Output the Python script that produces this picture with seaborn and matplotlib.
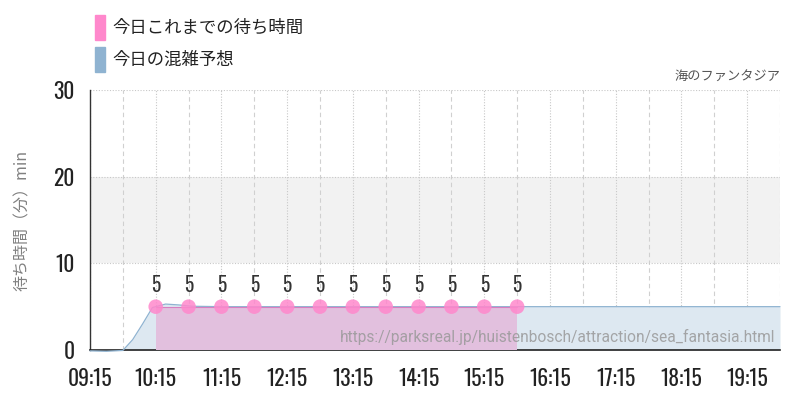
import matplotlib
matplotlib.use("Agg")
import matplotlib.pyplot as plt
import seaborn as sns
import pandas as pd
from matplotlib.patches import Rectangle

# ---- data ----
tick_labels = ["09:15", "10:15", "11:15", "12:15", "13:15", "14:15",
               "15:15", "16:15", "17:15", "18:15", "19:15"]
tick_hours = [9.25, 10.25, 11.25, 12.25, 13.25, 14.25, 15.25, 16.25, 17.25, 18.25, 19.25]
ytick_values = [0, 10, 20, 30]

actual_hours = [10.25, 10.75, 11.25, 11.75, 12.25, 12.75, 13.25, 13.75,
                14.25, 14.75, 15.25, 15.75]
actual_waits = [5, 5, 5, 5, 5, 5, 5, 5, 5, 5, 5, 5]

forecast_hours = [9.25, 9.5, 9.75, 9.9, 10.05, 10.2, 10.4, 10.6, 10.8, 11.25,
                  12.25, 13.25, 14.25, 15.25, 16.25, 17.25, 18.25, 19.25, 19.75]
forecast_waits = [-0.1, -0.15, -0.05, 1.2, 3.0, 4.9, 5.3, 5.2, 5.05, 5.0,
                  5.0, 5.0, 5.0, 5.0, 5.0, 5.0, 5.0, 5.0, 5.0]

legend_labels = ["今日これまでの待ち時間", "今日の混雑予想"]
title_text = "海のファンタジア"
ylabel_text = "待ち時間（分）min"
url_text = "https://parksreal.jp/huistenbosch/attraction/sea_fantasia.html"

pink = "#ff88cc"
blue = "#8fb3d1"

sns.set_theme(style="white")
plt.rcParams["font.family"] = ["Noto Sans CJK JP", "DejaVu Sans"]
num_font = ["Oswald", "Roboto Condensed", "Barlow Condensed", "DejaVu Sans"]

fig = plt.figure(figsize=(8, 4), dpi=100)
ax = fig.add_axes([0.1125, 0.125, 0.8625, 0.65])

df_f = pd.DataFrame({"h": forecast_hours, "w": forecast_waits})
df_a = pd.DataFrame({"h": actual_hours, "w": actual_waits})

# gray band
ax.axhspan(10, 20, color="#f2f2f2", zorder=0, lw=0)

# vertical grid
for i in range(22):
    x = 9.25 + i * 0.5
    if i % 2 == 0:
        ax.axvline(x, color="#c8c8c8", lw=0.8, ls=(0, (1, 1.5)), zorder=1)
    else:
        ax.axvline(x, color="#d0d0d0", lw=0.8, ls=(0, (4, 3)), zorder=1)
for y in [10, 20, 30]:
    ax.axhline(y, color="#c8c8c8", lw=0.8, ls=(0, (1, 1.5)), zorder=1)

# forecast
ax.fill_between(df_f["h"], df_f["w"].clip(lower=0), 0, color="#dde8f1", lw=0, zorder=2)
sns.lineplot(data=df_f, x="h", y="w", ax=ax, color=blue, lw=0.9, zorder=3, clip_on=False)

# actual
ax.fill_between(df_a["h"], df_a["w"] - 0.1, 0, color="#e2c0de", lw=0, zorder=4)
sns.lineplot(data=df_a, x="h", y="w", ax=ax, color="#d77fc0", lw=0.8, zorder=5)
sns.scatterplot(data=df_a, x="h", y="w", ax=ax, color=pink, s=110,
                edgecolor="none", alpha=0.85, zorder=6)
for h, w in zip(actual_hours, actual_waits):
    ax.text(h, w + 1.3, str(w), ha="center", va="bottom", fontsize=14,
            family=num_font, fontweight="light", color="#333333", zorder=7)

ax.set_xlim(9.25, 19.75)
ax.set_ylim(0, 30)
ax.set_xticks(tick_hours)
ax.set_xticklabels(tick_labels, family=num_font, fontweight="light", fontsize=15.5,
                   color="#222222")
ax.set_yticks(ytick_values)
ax.set_yticklabels([str(v) for v in ytick_values], family=num_font, fontweight="light",
                   fontsize=15.5, color="#222222")
ax.tick_params(axis="x", length=12, color="#c8c8c8", width=0.8, pad=1)
ax.tick_params(axis="y", length=9, color="#c8c8c8", width=0.8, pad=2)
ax.set_xlabel("")
ax.set_ylabel(ylabel_text, color="#808080", fontsize=11.5, labelpad=16)

for s in ["top", "right"]:
    ax.spines[s].set_visible(False)
ax.spines["left"].set_color("#333333")
ax.spines["left"].set_linewidth(1.0)
ax.spines["bottom"].set_color("#222222")
ax.spines["bottom"].set_linewidth(1.2)
ax.set_axisbelow(False)

ax.text(1.0, 1.025, title_text, transform=ax.transAxes, ha="right", va="bottom",
        fontsize=9.5, color="#555555")
ax.text(0.993, 0.05, url_text, transform=ax.transAxes, ha="right", va="center",
        fontsize=11.2, color="#999999", alpha=0.85, family=["Roboto", "DejaVu Sans"],
        zorder=8)

# legend
fig.patches.append(Rectangle((95 / 800, 1 - 40 / 400), 10 / 800, 25 / 400,
                             transform=fig.transFigure, color=pink, figure=fig))
fig.patches.append(Rectangle((95 / 800, 1 - 72 / 400), 10 / 800, 25 / 400,
                             transform=fig.transFigure, color=blue, figure=fig))
fig.text(112 / 800, 1 - 28 / 400, legend_labels[0], va="center", ha="left",
         fontsize=12.5, color="#222222")
fig.text(112 / 800, 1 - 60 / 400, legend_labels[1], va="center", ha="left",
         fontsize=12.5, color="#222222")

fig.savefig("out.png", dpi=100)
